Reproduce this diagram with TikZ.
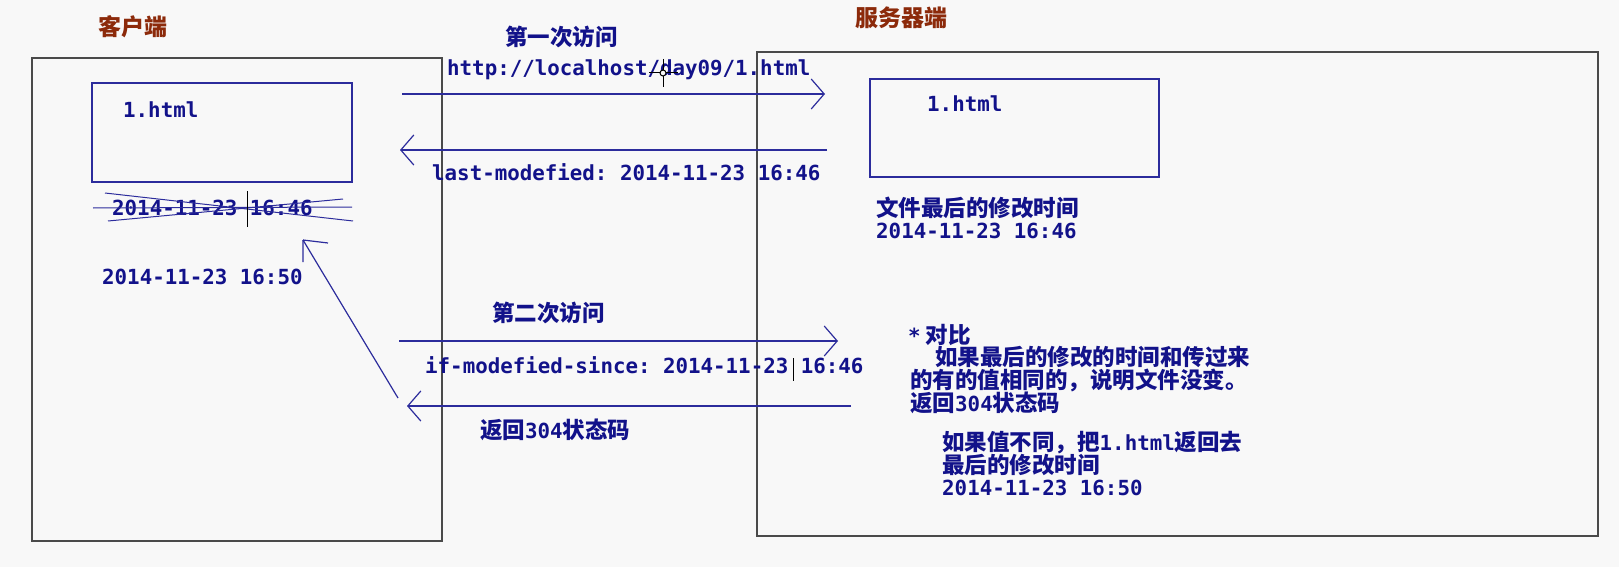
\documentclass[tikz,border=0pt]{standalone}
\usepackage{fontspec}
\setmainfont{Liberation Sans}
\setmonofont{DejaVu Sans Mono}
\newfontfamily\zhfont{Noto Sans CJK SC}
\usepackage{tikz}
\usetikzlibrary{arrows.meta}
\definecolor{bggray}{HTML}{F8F8F8}
\definecolor{txtblue}{HTML}{12128A}
\definecolor{lineblue}{HTML}{2C2C9C}
\definecolor{boxgray}{HTML}{4A4A4A}
\definecolor{titlered}{HTML}{8C2A0A}
\newcommand{\zh}[1]{{\zhfont\bfseries\fontsize{22.5}{23}\selectfont #1}}
\tikzset{
  flowarrow/.style={draw=lineblue, line width=1.2pt, -{Straight Barb[length=13pt, width=30pt, line width=1.2pt]}},
  sidebox/.style={draw=boxgray, line width=1.8pt},
  filebox/.style={draw=lineblue, line width=1.8pt},
  txt/.style={anchor=west, inner sep=0pt, text=txtblue, font=\ttfamily\bfseries\fontsize{20.8}{23}\selectfont},
  sidetitle/.style={anchor=west, inner sep=0pt, text=titlered, font=\zhfont\bfseries\fontsize{23}{23}\selectfont},
  strike/.style={draw=lineblue, line width=1pt},
  cursor/.style={draw=black, line width=1pt}
}
\begin{document}
\begin{tikzpicture}[x=1pt, y=-1pt]
      \fill[bggray] (0,0) rectangle (1619,567);
      \useasboundingbox (0,0) rectangle (1619,567);
      \node[sidetitle] (clienttitle) at (98,27) {客户端};
      \node[sidetitle] (servertitle) at (855,18) {服务器端};
      \draw[sidebox] (32,58) rectangle (442,541);
      \draw[sidebox] (757,52) rectangle (1598,536);
      \draw[filebox] (92,83) rectangle (352,182);
      \draw[filebox] (870,79) rectangle (1159,177);
      \node[txt] (clientfile) at (123,110) {1.html};
      \node[txt] (serverfile) at (927,104) {1.html};
      \node[txt] (olddate) at (112,208) {2014-11-23 16:46};
      \node[txt] (newdate) at (102,277) {2014-11-23 16:50};
      \draw[strike] (93,208) -- (352,207);
      \draw[strike] (105,193) -- (353,221);
      \draw[strike] (108,221) -- (343,199);
      \draw[cursor] (247,191) -- (247,227);
      \node[txt] (visit1) at (505,37) {\zh{第一次访问}};
      \node[txt] (url) at (447,70) {http://localhost/day09/1.html};
      \draw[cursor] (649,73) -- (678,73) (663,59) -- (663,87);
      \draw[cursor, fill=bggray] (663,73) circle (3);
      \node[txt] (lastmod) at (432,172) {last-modefied: 2014-11-23 16:46};
      \node[txt] (visit2) at (492,313) {\zh{第二次访问}};
      \node[txt] (ifmod) at (425,365) {if-modefied-since: 2014-11-23 16:46};
      \draw[cursor] (793,358) -- (793,381);
      \node[txt] (ret304) at (480,430) {\zh{返回}304\zh{状态码}};
      \coordinate (req1s) at (402,94);
      \coordinate (req1e) at (825,94);
      \coordinate (resp1s) at (827,150);
      \coordinate (resp1e) at (400,150);
      \coordinate (req2s) at (399,341);
      \coordinate (req2e) at (838,341);
      \coordinate (resp2s) at (851,406);
      \coordinate (resp2e) at (407,406);
      \coordinate (backs) at (398,398);
      \coordinate (backe) at (303,240);
      \draw[flowarrow] (req1s) -- (req1e);
      \draw[flowarrow] (resp1s) -- (resp1e);
      \draw[flowarrow] (req2s) -- (req2e);
      \draw[flowarrow] (resp2s) -- (resp2e);
      \draw[draw=lineblue, line width=1.2pt] (backs) -- (backe);
      \draw[draw=lineblue, line width=1.2pt] (backe) -- ++(25,3) (backe) -- ++(0,22);
      \node[txt] (modlabel) at (876,208) {\zh{文件最后的修改时间}};
      \node[txt] (moddate) at (876,231) {2014-11-23 16:46};
      \node[txt] (cmp1) at (908,335) {*\zh{ 对比}};
      \node[txt] (cmp2) at (935,357) {\zh{如果最后的修改的时间和传过来}};
      \node[txt] (cmp3) at (910,380) {\zh{的有的值相同的，说明文件没变。}};
      \node[txt] (cmp4) at (910,403) {\zh{返回}304\zh{状态码}};
      \node[txt] (diff1) at (942,443) {\zh{如果值不同，把}1.html\zh{返回去}};
      \node[txt] (diff2) at (942,465) {\zh{最后的修改时间}};
      \node[txt] (diff3) at (942,488) {2014-11-23 16:50};
    \end{tikzpicture}
\end{document}
